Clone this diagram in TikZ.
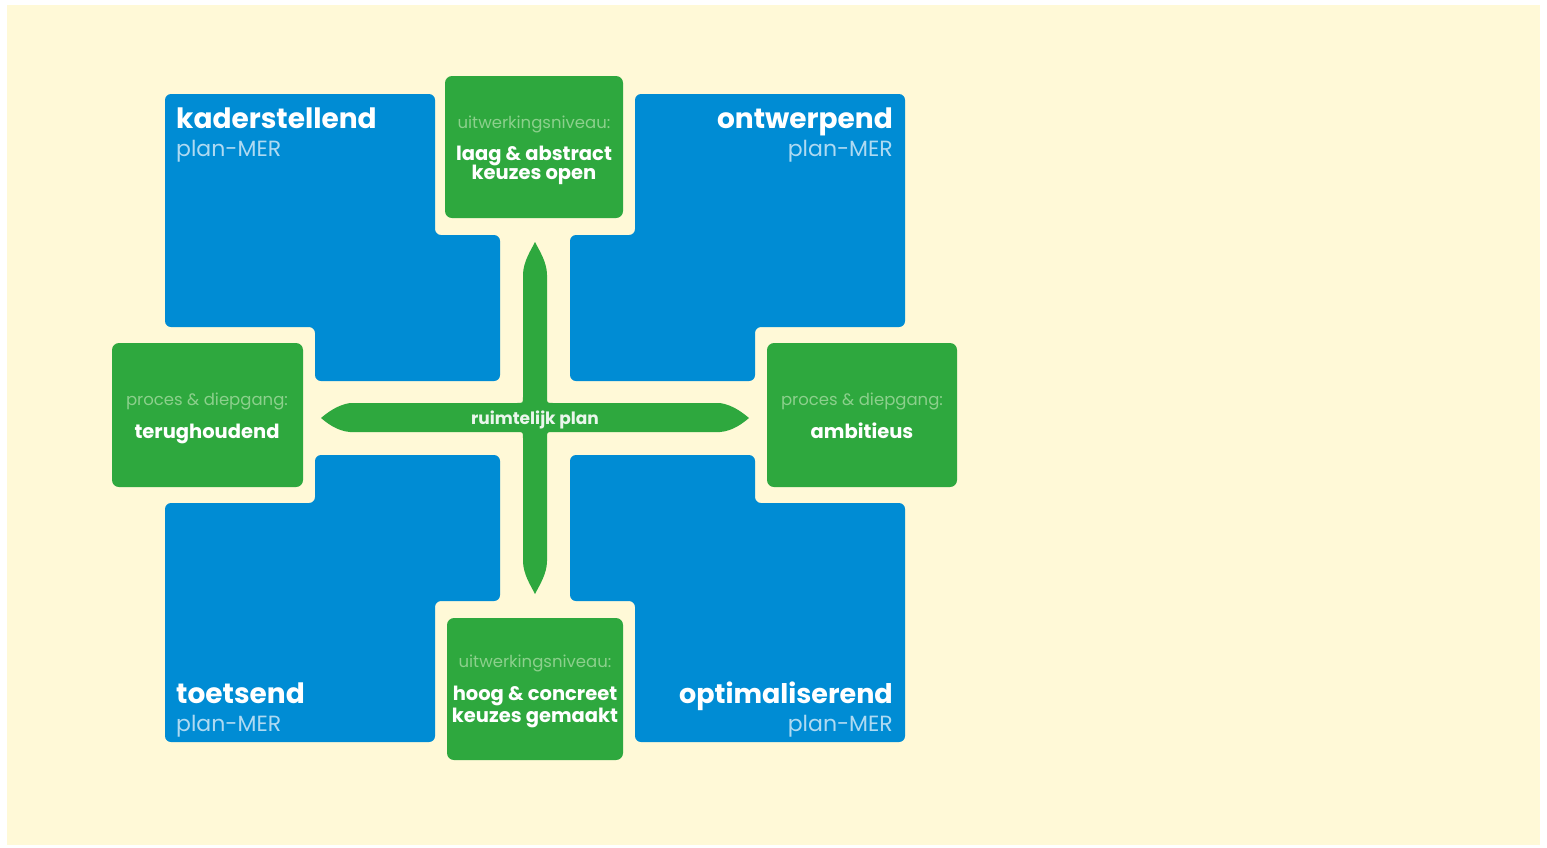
\documentclass[tikz,border=0pt]{standalone}
\usepackage{fontspec}
\setmainfont{Poppins}
\definecolor{cream}{RGB}{255,249,215}
\definecolor{mblue}{RGB}{0,140,212}
\definecolor{mgreen}{RGB}{46,168,62}
\definecolor{lblue}{RGB}{175,218,242}
\definecolor{lgreen}{RGB}{140,208,140}
\tikzset{
  blueshape/.style={fill=mblue, rounded corners=6pt},
  greenbox/.style={fill=mgreen, rounded corners=7pt, inner sep=0pt},
  title/.style={text=white, font=\bfseries\fontsize{28}{30}\selectfont, inner sep=0pt},
  sub/.style={text=lblue, font=\fontsize{22}{24}\selectfont, inner sep=0pt},
  small/.style={text=lgreen, font=\fontsize{16.5}{18}\selectfont, inner sep=0pt, anchor=base},
  big/.style={text=white, font=\bfseries\fontsize{19.5}{21}\selectfont, inner sep=0pt, anchor=base},
}
\begin{document}
\begin{tikzpicture}[x=1pt, y=-1pt]
\useasboundingbox (0,0) rectangle (1547,847);
\fill[white] (0,0) rectangle (1547,847);
\fill[cream] (7,5) rectangle (1540,845);
% blue L-shapes
\path[blueshape] (165,94) -- (435,94) -- (435,235) -- (500,235) -- (500,381) -- (315,381) -- (315,327) -- (165,327) -- cycle;
\path[blueshape] (905,94) -- (635,94) -- (635,235) -- (570,235) -- (570,381) -- (755,381) -- (755,327) -- (905,327) -- cycle;
\path[blueshape] (165,742) -- (435,742) -- (435,601) -- (500,601) -- (500,455) -- (315,455) -- (315,503) -- (165,503) -- cycle;
\path[blueshape] (905,742) -- (635,742) -- (635,601) -- (570,601) -- (570,455) -- (755,455) -- (755,503) -- (905,503) -- cycle;
% green boxes
\node[greenbox, minimum width=178pt, minimum height=142pt] (gtop) at (534,147) {};
\node[greenbox, minimum width=176pt, minimum height=142pt] (gbot) at (535,689) {};
\node[greenbox, minimum width=191pt, minimum height=144pt] (gleft) at (207.5,415) {};
\node[greenbox, minimum width=190pt, minimum height=144pt] (gright) at (862,415) {};
% cross
\fill[mgreen] (523,275) .. controls (523,262) and (531,250) .. (535,242)
  .. controls (539,250) and (547,262) .. (547,275)
  -- (547,397) .. controls (547,403) .. (553,403)
  -- (720,403) .. controls (733,405) and (743,413) .. (749,418)
  .. controls (743,423) and (733,431) .. (720,432)
  -- (553,432) .. controls (547,432) .. (547,438)
  -- (547,561) .. controls (547,574) and (539,586) .. (535,594)
  .. controls (531,586) and (523,574) .. (523,561)
  -- (523,438) .. controls (523,432) .. (517,432)
  -- (350,432) .. controls (337,431) and (327,423) .. (321,418)
  .. controls (327,413) and (337,405) .. (350,403)
  -- (517,403) .. controls (523,403) .. (523,397) -- cycle;
% blue texts
\node[title, anchor=base west] (t1) at (176,128) {kaderstellend};
\node[sub, anchor=base west] (s1) at (176,156) {plan-MER};
\node[title, anchor=base east] (t2) at (893,128) {ontwerpend};
\node[sub, anchor=base east] (s2) at (893,156) {plan-MER};
\node[title, anchor=base west] (t3) at (176,703) {toetsend};
\node[sub, anchor=base west] (s3) at (176,731) {plan-MER};
\node[title, anchor=base east, font=\bfseries\fontsize{27}{29}\selectfont] (t4) at (893,703) {optimaliserend};
\node[sub, anchor=base east] (s4) at (893,731) {plan-MER};
% green texts
\node[small] (u1) at (534,128) {uitwerkingsniveau:};
\node[big] (b1) at (534,160) {laag \& abstract};
\node[big] (b2) at (534,179) {keuzes open};
\node[small] (u2) at (535,667) {uitwerkingsniveau:};
\node[big] (b3) at (535,700) {hoog \& concreet};
\node[big] (b4) at (535,722) {keuzes gemaakt};
\node[small] (p1) at (207,405) {proces \& diepgang:};
\node[big] (b5) at (207,438) {terughoudend};
\node[small] (p2) at (862,405) {proces \& diepgang:};
\node[big] (b6) at (862,438) {ambitieus};
\node[big, font=\bfseries\fontsize{17}{19}\selectfont, text=white!90!mgreen] (rp) at (535,424) {ruimtelijk plan};
\end{tikzpicture}
\end{document}
